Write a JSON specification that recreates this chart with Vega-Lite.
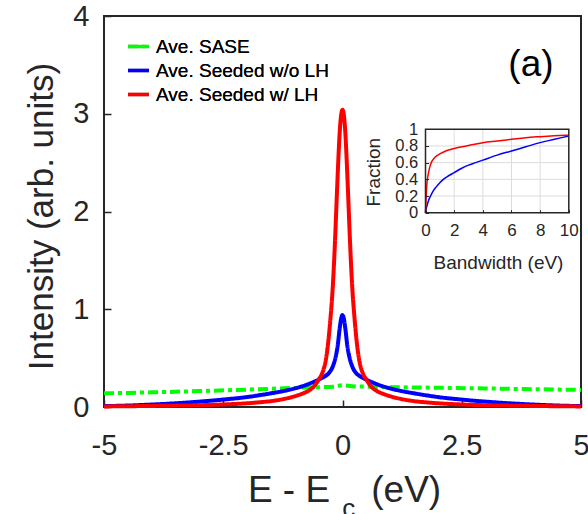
{
  "$schema": "https://vega.github.io/schema/vega-lite/v6.json",
  "width": 477,
  "height": 391,
  "autosize": "none",
  "padding": {"left": 104, "top": 16, "right": 7, "bottom": 107},
  "background": "white",
  "config": {
    "font": "Liberation Sans",
    "view": {"stroke": "#262626", "strokeWidth": 2},
    "axis": {"labelFont": "Liberation Sans", "titleFont": "Liberation Sans", "labelColor": "#262626", "titleColor": "#262626", "tickColor": "#262626", "grid": false, "domain": false, "titleFontWeight": "normal"}
  },
  "datasets": {
    "main": [
      {"s": "Ave. SASE", "x": -5, "y": 0.14}, {"s": "Ave. SASE", "x": -4, "y": 0.15}, {"s": "Ave. SASE", "x": -3, "y": 0.163}, {"s": "Ave. SASE", "x": -2, "y": 0.178}, {"s": "Ave. SASE", "x": -1, "y": 0.195}, {"s": "Ave. SASE", "x": -0.5, "y": 0.203}, {"s": "Ave. SASE", "x": -0.2, "y": 0.208}, {"s": "Ave. SASE", "x": 0, "y": 0.222}, {"s": "Ave. SASE", "x": 0.2, "y": 0.212}, {"s": "Ave. SASE", "x": 0.5, "y": 0.208}, {"s": "Ave. SASE", "x": 1, "y": 0.203}, {"s": "Ave. SASE", "x": 2, "y": 0.197}, {"s": "Ave. SASE", "x": 3, "y": 0.19}, {"s": "Ave. SASE", "x": 4, "y": 0.182}, {"s": "Ave. SASE", "x": 5, "y": 0.175},
      {"s": "Ave. Seeded w/o LH", "x": -5, "y": 0.009}, {"s": "Ave. Seeded w/o LH", "x": -4.5, "y": 0.015}, {"s": "Ave. Seeded w/o LH", "x": -4, "y": 0.025}, {"s": "Ave. Seeded w/o LH", "x": -3.5, "y": 0.038}, {"s": "Ave. Seeded w/o LH", "x": -3, "y": 0.055}, {"s": "Ave. Seeded w/o LH", "x": -2.5, "y": 0.076}, {"s": "Ave. Seeded w/o LH", "x": -2, "y": 0.102}, {"s": "Ave. Seeded w/o LH", "x": -1.75, "y": 0.12}, {"s": "Ave. Seeded w/o LH", "x": -1.5, "y": 0.14}, {"s": "Ave. Seeded w/o LH", "x": -1.25, "y": 0.162}, {"s": "Ave. Seeded w/o LH", "x": -1, "y": 0.19}, {"s": "Ave. Seeded w/o LH", "x": -0.75, "y": 0.228}, {"s": "Ave. Seeded w/o LH", "x": -0.6, "y": 0.258}, {"s": "Ave. Seeded w/o LH", "x": -0.5, "y": 0.28}, {"s": "Ave. Seeded w/o LH", "x": -0.4, "y": 0.305}, {"s": "Ave. Seeded w/o LH", "x": -0.3, "y": 0.34}, {"s": "Ave. Seeded w/o LH", "x": -0.25, "y": 0.37}, {"s": "Ave. Seeded w/o LH", "x": -0.2, "y": 0.42}, {"s": "Ave. Seeded w/o LH", "x": -0.15, "y": 0.5}, {"s": "Ave. Seeded w/o LH", "x": -0.1, "y": 0.63}, {"s": "Ave. Seeded w/o LH", "x": -0.06, "y": 0.8}, {"s": "Ave. Seeded w/o LH", "x": -0.03, "y": 0.9}, {"s": "Ave. Seeded w/o LH", "x": 0, "y": 0.94}, {"s": "Ave. Seeded w/o LH", "x": 0.03, "y": 0.9}, {"s": "Ave. Seeded w/o LH", "x": 0.06, "y": 0.8}, {"s": "Ave. Seeded w/o LH", "x": 0.1, "y": 0.63}, {"s": "Ave. Seeded w/o LH", "x": 0.15, "y": 0.5}, {"s": "Ave. Seeded w/o LH", "x": 0.2, "y": 0.42}, {"s": "Ave. Seeded w/o LH", "x": 0.25, "y": 0.37}, {"s": "Ave. Seeded w/o LH", "x": 0.3, "y": 0.34}, {"s": "Ave. Seeded w/o LH", "x": 0.4, "y": 0.305}, {"s": "Ave. Seeded w/o LH", "x": 0.5, "y": 0.28}, {"s": "Ave. Seeded w/o LH", "x": 0.6, "y": 0.258}, {"s": "Ave. Seeded w/o LH", "x": 0.75, "y": 0.228}, {"s": "Ave. Seeded w/o LH", "x": 1, "y": 0.19}, {"s": "Ave. Seeded w/o LH", "x": 1.25, "y": 0.162}, {"s": "Ave. Seeded w/o LH", "x": 1.5, "y": 0.14}, {"s": "Ave. Seeded w/o LH", "x": 1.75, "y": 0.12}, {"s": "Ave. Seeded w/o LH", "x": 2, "y": 0.102}, {"s": "Ave. Seeded w/o LH", "x": 2.5, "y": 0.076}, {"s": "Ave. Seeded w/o LH", "x": 3, "y": 0.055}, {"s": "Ave. Seeded w/o LH", "x": 3.5, "y": 0.038}, {"s": "Ave. Seeded w/o LH", "x": 4, "y": 0.025}, {"s": "Ave. Seeded w/o LH", "x": 4.5, "y": 0.015}, {"s": "Ave. Seeded w/o LH", "x": 5, "y": 0.009},
      {"s": "Ave. Seeded w/ LH", "x": -5, "y": 0.006}, {"s": "Ave. Seeded w/ LH", "x": -4.5, "y": 0.008}, {"s": "Ave. Seeded w/ LH", "x": -4, "y": 0.011}, {"s": "Ave. Seeded w/ LH", "x": -3.5, "y": 0.014}, {"s": "Ave. Seeded w/ LH", "x": -3, "y": 0.018}, {"s": "Ave. Seeded w/ LH", "x": -2.5, "y": 0.026}, {"s": "Ave. Seeded w/ LH", "x": -2, "y": 0.038}, {"s": "Ave. Seeded w/ LH", "x": -1.75, "y": 0.048}, {"s": "Ave. Seeded w/ LH", "x": -1.5, "y": 0.06}, {"s": "Ave. Seeded w/ LH", "x": -1.25, "y": 0.08}, {"s": "Ave. Seeded w/ LH", "x": -1, "y": 0.11}, {"s": "Ave. Seeded w/ LH", "x": -0.85, "y": 0.135}, {"s": "Ave. Seeded w/ LH", "x": -0.7, "y": 0.17}, {"s": "Ave. Seeded w/ LH", "x": -0.6, "y": 0.21}, {"s": "Ave. Seeded w/ LH", "x": -0.5, "y": 0.28}, {"s": "Ave. Seeded w/ LH", "x": -0.45, "y": 0.32}, {"s": "Ave. Seeded w/ LH", "x": -0.4, "y": 0.38}, {"s": "Ave. Seeded w/ LH", "x": -0.35, "y": 0.48}, {"s": "Ave. Seeded w/ LH", "x": -0.3, "y": 0.66}, {"s": "Ave. Seeded w/ LH", "x": -0.25, "y": 0.92}, {"s": "Ave. Seeded w/ LH", "x": -0.21, "y": 1.18}, {"s": "Ave. Seeded w/ LH", "x": -0.18, "y": 1.45}, {"s": "Ave. Seeded w/ LH", "x": -0.15, "y": 1.78}, {"s": "Ave. Seeded w/ LH", "x": -0.12, "y": 2.15}, {"s": "Ave. Seeded w/ LH", "x": -0.09, "y": 2.5}, {"s": "Ave. Seeded w/ LH", "x": -0.06, "y": 2.8}, {"s": "Ave. Seeded w/ LH", "x": -0.03, "y": 2.98}, {"s": "Ave. Seeded w/ LH", "x": 0, "y": 3.04}, {"s": "Ave. Seeded w/ LH", "x": 0.03, "y": 2.98}, {"s": "Ave. Seeded w/ LH", "x": 0.06, "y": 2.8}, {"s": "Ave. Seeded w/ LH", "x": 0.09, "y": 2.5}, {"s": "Ave. Seeded w/ LH", "x": 0.12, "y": 2.15}, {"s": "Ave. Seeded w/ LH", "x": 0.15, "y": 1.78}, {"s": "Ave. Seeded w/ LH", "x": 0.18, "y": 1.45}, {"s": "Ave. Seeded w/ LH", "x": 0.21, "y": 1.18}, {"s": "Ave. Seeded w/ LH", "x": 0.25, "y": 0.92}, {"s": "Ave. Seeded w/ LH", "x": 0.3, "y": 0.66}, {"s": "Ave. Seeded w/ LH", "x": 0.35, "y": 0.48}, {"s": "Ave. Seeded w/ LH", "x": 0.4, "y": 0.38}, {"s": "Ave. Seeded w/ LH", "x": 0.45, "y": 0.32}, {"s": "Ave. Seeded w/ LH", "x": 0.5, "y": 0.28}, {"s": "Ave. Seeded w/ LH", "x": 0.6, "y": 0.21}, {"s": "Ave. Seeded w/ LH", "x": 0.7, "y": 0.17}, {"s": "Ave. Seeded w/ LH", "x": 0.85, "y": 0.135}, {"s": "Ave. Seeded w/ LH", "x": 1, "y": 0.11}, {"s": "Ave. Seeded w/ LH", "x": 1.25, "y": 0.08}, {"s": "Ave. Seeded w/ LH", "x": 1.5, "y": 0.06}, {"s": "Ave. Seeded w/ LH", "x": 1.75, "y": 0.048}, {"s": "Ave. Seeded w/ LH", "x": 2, "y": 0.038}, {"s": "Ave. Seeded w/ LH", "x": 2.5, "y": 0.026}, {"s": "Ave. Seeded w/ LH", "x": 3, "y": 0.018}, {"s": "Ave. Seeded w/ LH", "x": 3.5, "y": 0.014}, {"s": "Ave. Seeded w/ LH", "x": 4, "y": 0.011}, {"s": "Ave. Seeded w/ LH", "x": 4.5, "y": 0.008}, {"s": "Ave. Seeded w/ LH", "x": 5, "y": 0.006}
    ],
    "inset": [
      {"s": "blue", "bw": 0, "f": 0}, {"s": "blue", "bw": 0.05, "f": 0.05}, {"s": "blue", "bw": 0.1, "f": 0.08}, {"s": "blue", "bw": 0.2, "f": 0.14}, {"s": "blue", "bw": 0.35, "f": 0.2}, {"s": "blue", "bw": 0.5, "f": 0.25}, {"s": "blue", "bw": 0.75, "f": 0.31}, {"s": "blue", "bw": 1, "f": 0.36}, {"s": "blue", "bw": 1.25, "f": 0.4}, {"s": "blue", "bw": 1.5, "f": 0.43}, {"s": "blue", "bw": 2, "f": 0.48}, {"s": "blue", "bw": 2.5, "f": 0.53}, {"s": "blue", "bw": 3, "f": 0.57}, {"s": "blue", "bw": 3.5, "f": 0.6}, {"s": "blue", "bw": 4, "f": 0.63}, {"s": "blue", "bw": 5, "f": 0.69}, {"s": "blue", "bw": 6, "f": 0.74}, {"s": "blue", "bw": 7, "f": 0.79}, {"s": "blue", "bw": 8, "f": 0.84}, {"s": "blue", "bw": 9, "f": 0.88}, {"s": "blue", "bw": 10, "f": 0.92},
      {"s": "red", "bw": 0, "f": 0}, {"s": "red", "bw": 0.05, "f": 0.2}, {"s": "red", "bw": 0.1, "f": 0.35}, {"s": "red", "bw": 0.15, "f": 0.42}, {"s": "red", "bw": 0.2, "f": 0.47}, {"s": "red", "bw": 0.3, "f": 0.55}, {"s": "red", "bw": 0.4, "f": 0.6}, {"s": "red", "bw": 0.5, "f": 0.63}, {"s": "red", "bw": 0.7, "f": 0.67}, {"s": "red", "bw": 1, "f": 0.705}, {"s": "red", "bw": 1.5, "f": 0.745}, {"s": "red", "bw": 2, "f": 0.77}, {"s": "red", "bw": 3, "f": 0.805}, {"s": "red", "bw": 4, "f": 0.84}, {"s": "red", "bw": 5, "f": 0.86}, {"s": "red", "bw": 6, "f": 0.88}, {"s": "red", "bw": 7, "f": 0.9}, {"s": "red", "bw": 8, "f": 0.912}, {"s": "red", "bw": 9, "f": 0.922}, {"s": "red", "bw": 10, "f": 0.93}
    ],
    "gridx": [{"g": 2}, {"g": 4}, {"g": 6}, {"g": 8}],
    "gridy": [{"g": 0.2}, {"g": 0.4}, {"g": 0.6}, {"g": 0.8}]
  },
  "layer": [
    {
      "layer": [
        {
          "data": {"name": "main"},
          "mark": {"type": "line", "strokeWidth": 4, "interpolate": "monotone"},
          "encoding": {
            "x": {"field": "x", "type": "quantitative",
              "scale": {"domain": [-5, 5], "nice": false, "zero": false},
              "axis": {"orient": "bottom", "values": [-5, -2.5, 0, 2.5, 5], "labelExpr": "'' + datum.value", "labelFontSize": 29, "tickSize": -7, "tickWidth": 1.5, "labelPadding": 31, "labelFlush": false, "labelOverlap": false, "title": "E - E\u00a0\u00a0\u00a0\u00a0(eV)", "titleFontSize": 37, "titleX": 240, "titleY": 94, "titleBaseline": "alphabetic", "titleAlign": "center"}},
            "y": {"field": "y", "type": "quantitative",
              "scale": {"domain": [0, 4], "nice": false},
              "axis": {"orient": "left", "values": [0, 1, 2, 3, 4], "labelExpr": "'' + datum.value", "labelFontSize": 29, "tickSize": -7, "tickWidth": 1.5, "labelPadding": 22, "labelOverlap": false, "labelFlush": false, "title": "Intensity (arb. units)", "titleFontSize": 35, "titleX": -63, "titleY": 200, "titleAngle": -90, "titleBaseline": "middle", "titleAlign": "center"}},
            "color": {"field": "s", "type": "nominal", "sort": null,
              "scale": {"domain": ["Ave. SASE", "Ave. Seeded w/o LH", "Ave. Seeded w/ LH"], "range": ["#00ff00", "#0000ff", "#ff0000"]},
              "legend": {"orient": "none", "legendX": 22, "legendY": 18, "title": null, "labelFontSize": 19, "labelFontWeight": "normal", "labelLimit": 400, "labelColor": "#000000", "symbolType": "stroke", "symbolSize": 441, "symbolStrokeWidth": 3.5, "labelOffset": 5, "rowPadding": 1, "padding": 0}},
            "strokeDash": {"field": "s", "type": "nominal", "sort": null,
              "scale": {"domain": ["Ave. SASE", "Ave. Seeded w/o LH", "Ave. Seeded w/ LH"], "range": [[10, 4, 4, 4], [1, 0], [1, 0]]},
              "legend": {"orient": "none", "legendX": 22, "legendY": 18, "title": null, "labelFontSize": 19, "labelFontWeight": "normal", "labelLimit": 400, "labelColor": "#000000", "symbolType": "stroke", "symbolSize": 441, "symbolStrokeWidth": 3.5, "labelOffset": 5, "rowPadding": 1, "padding": 0}}
          }
        },
        {
          "data": {"values": [{}]},
          "mark": {"type": "text", "text": "(a)", "fontSize": 37, "font": "Liberation Sans", "color": "#000000", "align": "center", "baseline": "middle"},
          "encoding": {"x": {"datum": 3.95}, "y": {"datum": 3.5}}
        },
        {
          "data": {"values": [{}]},
          "mark": {"type": "text", "text": "c", "fontSize": 26, "font": "Liberation Sans", "color": "#262626", "align": "center", "baseline": "alphabetic"},
          "encoding": {"x": {"datum": 0.13}, "y": {"datum": -1.13}}
        }
      ]
    },
    {
      "layer": [
        {
          "data": {"values": [{}]},
          "mark": {"type": "rect", "fill": "white"},
          "encoding": {
            "x": {"datum": 0, "type": "quantitative",
              "scale": {"domain": [0, 10], "range": [321.5, 464.8], "nice": false, "zero": false},
              "axis": {"orient": "bottom", "offset": -194.3, "values": [0, 2, 4, 6, 8, 10], "labelExpr": "'' + datum.value", "labelFontSize": 17, "tickSize": -3, "tickWidth": 1, "labelPadding": 12.6, "labelFlush": false, "labelOverlap": false, "title": "Bandwidth (eV)", "titleFontSize": 19, "titleX": 394, "titleY": 56, "titleBaseline": "alphabetic", "titleAlign": "center", "zindex": 1}},
            "x2": {"datum": 10},
            "y": {"datum": 0, "type": "quantitative",
              "scale": {"domain": [0, 1], "range": [196.7, 113.3], "nice": false, "zero": false},
              "axis": {"orient": "left", "offset": -321.5, "values": [0, 0.2, 0.4, 0.6, 0.8, 1], "labelExpr": "'' + datum.value", "labelFontSize": 16.5, "tickSize": -3, "tickWidth": 1, "labelPadding": 10.7, "labelFlush": false, "labelOverlap": false, "title": "Fraction", "titleFontSize": 19, "titleX": -52.5, "titleY": 155.7, "titleAngle": -90, "titleBaseline": "middle", "titleAlign": "center", "zindex": 1}},
            "y2": {"datum": 1}
          }
        },
        {
          "data": {"name": "gridx"},
          "mark": {"type": "rule", "color": "#dcdcdc", "strokeWidth": 1},
          "encoding": {"x": {"field": "g", "type": "quantitative"}, "y": {"datum": 0}, "y2": {"datum": 1}}
        },
        {
          "data": {"name": "gridy"},
          "mark": {"type": "rule", "color": "#dcdcdc", "strokeWidth": 1},
          "encoding": {"y": {"field": "g", "type": "quantitative"}, "x": {"datum": 0}, "x2": {"datum": 10}}
        },
        {
          "data": {"name": "inset"},
          "mark": {"type": "line", "strokeWidth": 1.5, "interpolate": "monotone"},
          "encoding": {
            "x": {"field": "bw", "type": "quantitative"},
            "y": {"field": "f", "type": "quantitative"},
            "color": {"field": "s", "type": "nominal", "scale": {"domain": ["blue", "red"], "range": ["#0000ff", "#ff0000"]}, "legend": null}
          }
        },
        {
          "data": {"values": [{}]},
          "mark": {"type": "rect", "fill": null, "stroke": "#262626", "strokeWidth": 1.5},
          "encoding": {"x": {"datum": 0}, "x2": {"datum": 10}, "y": {"datum": 0}, "y2": {"datum": 1}}
        }
      ]
    }
  ],
  "resolve": {
    "scale": {"x": "independent", "y": "independent", "color": "independent"},
    "axis": {"x": "independent", "y": "independent"}
  }
}
